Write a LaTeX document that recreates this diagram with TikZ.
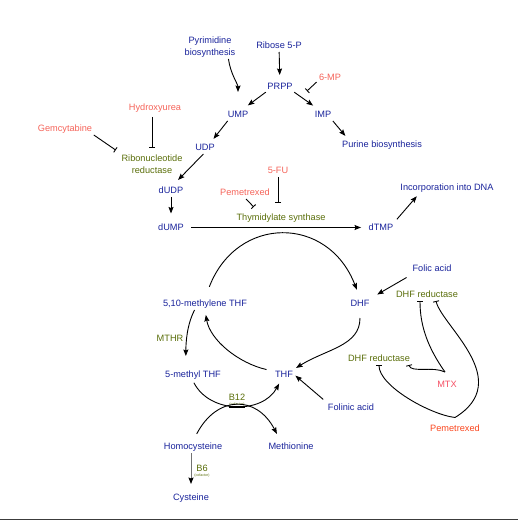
\documentclass[tikz,border=0pt]{standalone}
\usepackage{fontspec}
\setmainfont{Liberation Sans}
\usetikzlibrary{arrows.meta, positioning}
\definecolor{metblue}{RGB}{25, 35, 155}
\definecolor{drugred}{RGB}{245, 100, 90}
\definecolor{mtxred}{RGB}{245, 80, 100}
\definecolor{pemorange}{RGB}{250, 70, 30}
\definecolor{enzgreen}{RGB}{90, 110, 10}
\definecolor{framegray}{RGB}{60, 60, 60}

\begin{document}
\begin{tikzpicture}[
        x=1pt, y=-1pt,
        lbl/.style = {inner sep=1.5pt, font=\fontsize{9.2}{12}\selectfont, align=center},
        metab/.style = {lbl, text=metblue, text height=6.8pt, text depth=1.8pt},
        metabtwo/.style = {lbl, text=metblue},
        drug/.style = {lbl, text=drugred, text height=6.8pt, text depth=1.8pt},
        enzyme/.style = {lbl, text=enzgreen, text height=6.8pt, text depth=1.8pt},
        enztwo/.style = {lbl, text=enzgreen},
        cof/.style = {inner sep=0.5pt, text=enzgreen, font=\fontsize{3.6}{4}\selectfont},
        arrow/.style = {line width=0.9pt, -{Stealth[length=6.5pt, width=5pt, inset=1pt]}},
        grayarrow/.style = {line width=0.9pt, draw=black!55, -{Stealth[length=6.5pt, width=5pt, inset=1pt, color=black]}},
        inhibit/.style = {line width=0.9pt, -{Bar[width=6pt]}}
    ]
        \useasboundingbox (0,0) rectangle (518,521);

        % Nodes
        \node [metabtwo] (pyrim) at (210,47) {Pyrimidine\\biosynthesis};
        \node [metab] (ribose) at (279,46) {Ribose 5-P};
        \node [metab] (prpp) at (280,87) {PRPP};
        \node [drug] (mp) at (330,78) {6-MP};
        \node [metab] (ump) at (238,115) {UMP};
        \node [metab] (imp) at (323,115) {IMP};
        \node [metab] (purine) at (382,145) {Purine biosynthesis};
        \node [drug] (hydroxy) at (155,108) {Hydroxyurea};
        \node [drug] (gemc) at (65,129) {Gemcytabine};
        \node [enztwo] (rnr) at (152,164) {Ribonucleotide\\reductase};
        \node [metab] (udp) at (205,148) {UDP};
        \node [metab] (dudp) at (171,191) {dUDP};
        \node [metab] (dump) at (171,227.5) {dUMP};
        \node [drug] (pemts) at (245,193) {Pemetrexed};
        \node [drug] (fu) at (278,171) {5-FU};
        \node [enzyme] (ts) at (281,218) {Thymidylate synthase};
        \node [metab] (dtmp) at (381,227.5) {dTMP};
        \node [metab] (dna) at (447,188) {Incorporation into DNA};

        \node [metab] (methylene) at (205,304) {5,10-methylene THF};
        \node [metab] (dhf) at (360,304) {DHF};
        \node [metab] (folic) at (432,269) {Folic acid};
        \node [enzyme] (dhfrA) at (427,295) {DHF reductase};
        \node [enzyme] (dhfrB) at (379,359) {DHF reductase};
        \node [drug, text=mtxred] (mtx) at (447,385) {MTX};
        \node [drug, text=pemorange] (pemdhfr) at (455,429) {Pemetrexed};
        \node [enzyme] (mthr) at (170,339) {MTHR};
        \node [metab] (methyl) at (193,375) {5-methyl THF};
        \node [metab] (thf) at (284,375) {THF};
        \node [metab] (folinic) at (351,408) {Folinic acid};
        \node [enzyme] (b12) at (237,398) {B12};
        \node [cof, below=-2pt of b12] (cofbtwelve) {(cofactor)};
        \node [metab] (homocys) at (193,447) {Homocysteine};
        \node [metab] (methionine) at (291,447) {Methionine};
        \node [enzyme] (b6) at (202,469) {B6};
        \node [cof, below=-2pt of b6] (cofbsix) {(cofactor)};
        \node [metab] (cysteine) at (191,498) {Cysteine};

        \coordinate (mpbar) at (307,91);

        % Connections
        \draw [arrow, shorten >=6pt] (ribose) -- (prpp);
        \draw [arrow, shorten >=17pt] (pyrim.-33) .. controls +(2,15) and +(0,-25) .. (ump.north);
        \draw [arrow, shorten >=6pt] (prpp.-160) -- (ump.50);
        \draw [arrow, shorten >=6pt] (prpp.-20) -- (imp.130);
        \draw [inhibit, shorten <=1pt] (mp.-165) -- (mpbar);
        \draw [arrow, shorten >=4pt] (imp.south east) -- (purine.170);
        \draw [arrow, shorten >=4pt] (ump.-150) -- (udp.45);
        \draw [arrow, shorten >=7pt] (udp.-105) -- (dudp.70);
        \draw [inhibit, shorten <=3pt, shorten >=5pt] (hydroxy.south -| rnr.north) -- (rnr.north);
        \draw [inhibit, shorten >=5pt] (gemc.south east) -- (rnr.north west);
        \draw [arrow, shorten >=8pt] (dudp) -- (dump);
        \draw [arrow, shorten <=6pt, shorten >=6pt] (dump) -- (dtmp);
        \draw [inhibit, shorten >=9pt] (fu.south) -- (fu.south |- ts.north);
        \draw [inhibit, shorten >=7pt] (pemts.-80) -- (ts.165);
        \draw [arrow, shorten <=3pt, shorten >=3pt] (dtmp.north east) -- (dna.-168);

        % folate cycle
        \draw [arrow, shorten <=12pt, shorten >=9pt] (methylene.north) .. controls +(32,-83) and +(-32,-83) .. (dhf.north);
        \draw [arrow, shorten <=8pt, shorten >=2pt] (dhf.south) .. controls +(0,36) and +(32,-20) .. (thf.30);
        \draw [arrow, shorten <=7pt, shorten >=5pt] (thf.160) .. controls +(-35,-8) and +(5,30) .. (methylene.south);
        \draw [arrow, shorten <=5pt, shorten >=7pt] (folic.south west) -- (dhf.north east);
        \draw [arrow, shorten <=4pt, shorten >=1pt] (folinic.north west) -- (thf.east);
        \draw [arrow, shorten >=13pt] (methylene.-150) .. controls +(-8,15) and +(0,-25) .. (methyl.140);

        % B12 exchange
        \draw [arrow, shorten <=2pt, shorten >=3pt] (methyl.south) .. controls +(17,33) and +(-18,33) .. (thf.-120);
        \draw [arrow, shorten <=8pt, shorten >=8pt] (homocys.north) .. controls +(24,-46) and +(-24,-46) .. (methionine.150);
        \draw [line width=1.6pt] (cofbtwelve.south west) -- (cofbtwelve.south east);
        \draw [grayarrow, shorten >=8pt] (homocys.south -| cysteine.north) -- (cysteine.north);

        % DHF reductase inhibitors
        \draw [inhibit] ([xshift=-2pt, yshift=7pt]mtx.north) .. controls +(-17,-24) and +(0,25) .. ([xshift=-7pt]dhfrA.south);
        \draw [inhibit] ([xshift=-2pt, yshift=7pt]mtx.north) .. controls +(-12,-6) and +(2,8) .. ([xshift=30pt]dhfrB.south);
        \draw [inhibit] ([yshift=5.5pt]pemdhfr.north) .. controls +(60,-37) and +(6,25) .. ([xshift=9pt]dhfrA.south);
        \draw [inhibit] ([yshift=5.5pt]pemdhfr.north) .. controls +(-25,-3) and +(0,21) .. (dhfrB.south);

        \draw [line width=1.5pt, framegray] (0,519.5) -- (518,519.5);
    \end{tikzpicture}
\end{document}
